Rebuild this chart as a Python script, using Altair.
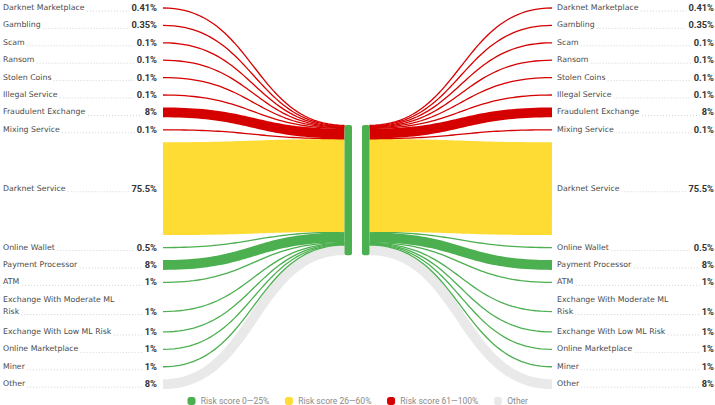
import altair as alt
import pandas as pd
import numpy as np

W, H = 715, 405

# ---------------- data ----------------
categories = [
    "Darknet Marketplace", "Gambling", "Scam", "Ransom", "Stolen Coins",
    "Illegal Service", "Fraudulent Exchange", "Mixing Service", "Darknet Service",
    "Online Wallet", "Payment Processor", "ATM", "Exchange With Moderate ML Risk",
    "Exchange With Low ML Risk", "Online Marketplace", "Miner", "Other",
]
values = [0.41, 0.35, 0.1, 0.1, 0.1, 0.1, 8, 0.1, 75.5, 0.5, 8, 1, 1, 1, 1, 1, 8]
value_labels = ["0.41%", "0.35%", "0.1%", "0.1%", "0.1%", "0.1%", "8%", "0.1%", "75.5%",
                "0.5%", "8%", "1%", "1%", "1%", "1%", "1%", "8%"]
risk_groups = ["high"] * 8 + ["medium"] + ["low"] * 7 + ["other"]

group_keys = ["low", "medium", "high", "other"]
group_labels = ["Risk score 0—25%", "Risk score 26—60%", "Risk score 61—100%", "Other"]
group_colors = ["#4CAF50", "#FFDC34", "#D50000", "#E9E9E9"]
color_of = dict(zip(group_keys, group_colors))

# ---------------- layout constants ----------------
LFONT = "DejaVu Sans"
LFS = 7.8
VFONT = "Roboto"
VFS = 9.3
K = 1.23            # px per percent
MIN_STROKE = 1.3
MIN_SLOT = 0.6
ROW_GAP = 17.4
ROW_PAD = 7.5
TOP_Y = 8.0
LINE_H = 11.8
WRAP_W = 120
NODE_TOP = 125

L = dict(label_x=3, value_r=157, flow_x=163, bar0=344.5, bar1=352)
R = dict(bar0=362, bar1=369.5, flow_x=552, label_x=557, value_r=714)

DJV = {" ": .318, "a": .613, "b": .635, "c": .550, "d": .635, "e": .615, "f": .352,
       "g": .635, "h": .634, "i": .278, "j": .278, "k": .579, "l": .278, "m": .974,
       "n": .634, "o": .612, "p": .635, "q": .635, "r": .411, "s": .521, "t": .392,
       "u": .634, "v": .592, "w": .818, "x": .592, "y": .592, "z": .525,
       "A": .684, "B": .686, "C": .698, "D": .770, "E": .632, "F": .575, "G": .775,
       "H": .752, "I": .295, "L": .557, "M": .863, "O": .787, "P": .603, "R": .695,
       "S": .635, "W": .989, ".": .318, "%": .950}


def label_w(s, fs=LFS):
    return sum(DJV.get(c, 0.63) for c in s) * fs


def roboto_w(s, fs, bold=False):
    w = 0.0
    for c in s:
        if c in "ilIj.,'|":
            w += 0.25
        elif c in "ftr":
            w += 0.34
        elif c == " ":
            w += 0.25
        elif c == "%":
            w += 0.73
        elif c == "—":
            w += 0.75
        elif c.isdigit():
            w += 0.56
        elif c.isupper():
            w += 0.64
        else:
            w += 0.53
    return w * fs * (1.03 if bold else 1.0)


def wrap(s, maxw):
    words = s.split(" ")
    lines, cur = [], ""
    for wd in words:
        t = (cur + " " + wd).strip()
        if cur and label_w(t) > maxw:
            lines.append(cur)
            cur = wd
        else:
            cur = t
    lines.append(cur)
    return lines


wrapped = [wrap(c, WRAP_W) for c in categories]

# row positions
row_h = [max(ROW_GAP, v * K + ROW_PAD) for v in values]
row_y = []
y = TOP_Y
for i in range(len(values)):
    if i > 0:
        gap = (row_h[i - 1] + row_h[i]) / 2
        gap += (len(wrapped[i]) - 1) * LINE_H
        gap += (len(wrapped[i - 1]) - 1) * 3
        y += gap
    row_y.append(y)

# node stacking
slots = [v * K if v * K >= 3 else MIN_SLOT for v in values]
node_y = []
cur = NODE_TOP
for s in slots:
    node_y.append(cur + s / 2)
    cur += s
NODE_BOT = cur

# ---------------- link curves ----------------
rows = []
ts = np.linspace(0, 1, 48)
order_draw = ["other", "low", "medium", "high"]
for side in ["L", "R"]:
    for i, c in enumerate(categories):
        if side == "L":
            x0, y0, x1, y1 = L["flow_x"], row_y[i], L["bar0"], node_y[i]
        else:
            x0, y0, x1, y1 = R["bar1"], node_y[i], R["flow_x"], row_y[i]
        xm = (x0 + x1) / 2
        for k, t in enumerate(ts):
            a, b, cc, d = (1 - t) ** 3, 3 * (1 - t) ** 2 * t, 3 * (1 - t) * t ** 2, t ** 3
            rows.append(dict(
                id=f"{side}{i}", t=k,
                x=a * x0 + b * xm + cc * xm + d * x1,
                y=a * y0 + b * y0 + cc * y1 + d * y1,
                sw=max(values[i] * K, MIN_STROKE),
                color=color_of[risk_groups[i]],
            ))
links = pd.DataFrame(rows)

xs = alt.Scale(domain=[0, W], nice=False, zero=False)
ys = alt.Scale(domain=[H, 0], nice=False, zero=False)

link_layers = []
for g in order_draw:
    sub = links[links.color == color_of[g]]
    link_layers.append(
        alt.Chart(sub).mark_line(strokeCap="butt", interpolate="linear").encode(
            x=alt.X("x:Q", scale=xs, axis=None),
            y=alt.Y("y:Q", scale=ys, axis=None),
            detail="id:N",
            order="t:Q",
            color=alt.Color("color:N", scale=None),
            strokeWidth=alt.StrokeWidth("sw:Q", scale=None),
        )
    )

bars = alt.Chart(pd.DataFrame([
    dict(x0=L["bar0"], x1=L["bar1"], y0=NODE_TOP, y1=NODE_BOT),
    dict(x0=R["bar0"], x1=R["bar1"], y0=NODE_TOP, y1=NODE_BOT),
])).mark_rect(color=group_colors[0], cornerRadius=2).encode(
    x=alt.X("x0:Q", scale=xs, axis=None), x2="x1:Q",
    y=alt.Y("y0:Q", scale=ys, axis=None), y2="y1:Q",
)

# ---------------- labels ----------------
lab_rows, val_rows, dot_rows = [], [], []
for side in ["L", "R"]:
    P = L if side == "L" else R
    for i, c in enumerate(categories):
        lines = wrapped[i]
        n = len(lines)
        for j, ln in enumerate(lines):
            lab_rows.append(dict(x=P["label_x"], y=row_y[i] - (n - 1 - j) * LINE_H, text=ln))
        val_rows.append(dict(x=P["value_r"], y=row_y[i], text=value_labels[i]))
        xa = P["label_x"] + label_w(lines[-1]) + 2
        xb = P["value_r"] - roboto_w(value_labels[i], VFS, True) - 2
        dot_rows.append(dict(x0=xa, x1=xb, y=row_y[i] + 3))

labels = alt.Chart(pd.DataFrame(lab_rows)).mark_text(
    align="left", baseline="middle", font=LFONT, fontSize=LFS, color="#4a4a4a"
).encode(x=alt.X("x:Q", scale=xs, axis=None), y=alt.Y("y:Q", scale=ys, axis=None), text="text:N")

vals = alt.Chart(pd.DataFrame(val_rows)).mark_text(
    align="right", baseline="middle", font=VFONT, fontSize=VFS, fontWeight="bold", color="#333333"
).encode(x=alt.X("x:Q", scale=xs, axis=None), y=alt.Y("y:Q", scale=ys, axis=None), text="text:N")

dots = alt.Chart(pd.DataFrame(dot_rows)).mark_rule(
    color="#c8c8c8", strokeDash=[1, 2], strokeWidth=0.8
).encode(x=alt.X("x0:Q", scale=xs, axis=None), x2="x1:Q", y=alt.Y("y:Q", scale=ys, axis=None))

# ---------------- legend ----------------
GFS = 8.5
MK = 8
LEG_Y = 401
GAP_IN = 5.3
GAP_OUT = 15.5
items_w = [MK + GAP_IN + roboto_w(t, GFS) for t in group_labels]
total = sum(items_w) + GAP_OUT * (len(items_w) - 1)
lx = W / 2 - total / 2
leg_rect, leg_text = [], []
for t, col, iw in zip(group_labels, group_colors, items_w):
    leg_rect.append(dict(x0=lx, x1=lx + MK, y0=LEG_Y - MK / 2, y1=LEG_Y + MK / 2, color=col))
    leg_text.append(dict(x=lx + MK + GAP_IN, y=LEG_Y, text=t))
    lx += iw + GAP_OUT

leg_marks = alt.Chart(pd.DataFrame(leg_rect)).mark_rect(cornerRadius=2.5).encode(
    x=alt.X("x0:Q", scale=xs, axis=None), x2="x1:Q",
    y=alt.Y("y0:Q", scale=ys, axis=None), y2="y1:Q",
    color=alt.Color("color:N", scale=None),
)
leg_labels = alt.Chart(pd.DataFrame(leg_text)).mark_text(
    align="left", baseline="middle", font=VFONT, fontSize=GFS, color="#8a8a8a"
).encode(x=alt.X("x:Q", scale=xs, axis=None), y=alt.Y("y:Q", scale=ys, axis=None), text="text:N")

chart = alt.layer(*link_layers, bars, dots, labels, vals, leg_marks, leg_labels).properties(
    width=W, height=H, padding=0, autosize=alt.AutoSizeParams(type="none")
).configure_view(stroke=None)

chart.save("out.html", embed_options={"renderer": "svg", "actions": False})
